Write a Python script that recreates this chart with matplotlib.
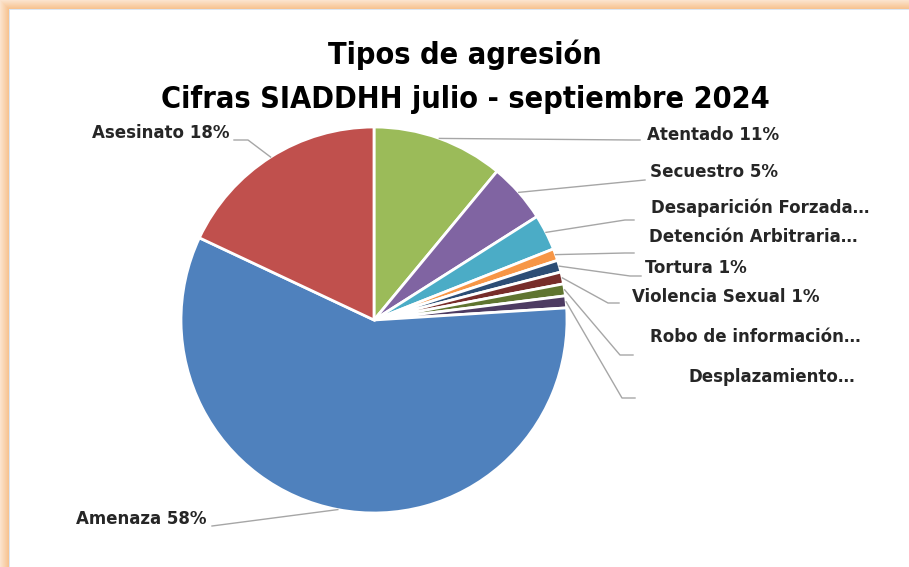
import numpy as np
import matplotlib

matplotlib.use("Agg")
import matplotlib.pyplot as plt

plt.rcParams["font.family"] = ["DejaVu Sans"]
plt.rcParams["font.stretch"] = "condensed"

W, H = 909, 567

# --- data (percent of cases, clockwise from 12 o'clock) ---
categorias = [
    "Atentado", "Secuestro", "Desaparición Forzada", "Detención Arbitraria",
    "Tortura", "Violencia Sexual", "Robo de información", "Desplazamiento",
    "Amenaza", "Asesinato",
]
porcentajes = [11, 5, 3, 1, 1, 1, 1, 1, 58, 18]
etiquetas = [
    "Atentado 11%", "Secuestro 5%", "Desaparición Forzada…", "Detención Arbitraria…",
    "Tortura 1%", "Violencia Sexual 1%", "Robo de información…", "Desplazamiento…",
    "Amenaza 58%", "Asesinato 18%",
]
colores = [
    "#9BBB59", "#8064A2", "#4BACC6", "#F79646", "#2C4D75",
    "#772C2A", "#5F7530", "#4D3B62", "#4F81BD", "#C0504D",
]

# --- layout (pixel coords, y down): label anchor, leader elbow points, alignment ---
CX, CY, R = 374, 320, 193
layout = [
    ((647, 135), [(632, 140), (640, 140)], "left"),
    ((650, 172), [(645, 180)], "left"),
    ((651, 208), [(625, 220), (634, 220)], "left"),
    ((649, 237), [(625, 253), (634, 253)], "left"),
    ((645, 268), [(630, 276), (641, 276)], "left"),
    ((632, 297), [(608, 303), (619, 303)], "left"),
    ((650, 337), [(620, 355), (633, 355)], "left"),
    ((688, 377), [(622, 398), (635, 398)], "left"),
    ((206, 519), [(212, 526)], "right"),
    ((230, 133), [(248, 140), (234, 140)], "right"),
]

fig = plt.figure(figsize=(W / 100, H / 100), dpi=100)

# orange glow frame on top/left edges
bg = np.ones((H, W, 3))
edge = np.array([247, 195, 145]) / 255.0
for i in range(9):
    t = 0.45 + 0.55 * i / 8
    col = 1 - (1 - edge) * t
    bg[i, i:, :] = col
    bg[i:, i, :] = col
bg[9, 9:, :] = np.array([220, 230, 242]) / 255.0
bg[9:, 9, :] = np.array([220, 230, 242]) / 255.0
bax = fig.add_axes([0, 0, 1, 1], zorder=0)
bax.imshow(bg, extent=(0, W, 0, H), aspect="auto", interpolation="nearest")
bax.set_axis_off()

ax = fig.add_axes([0, 0, 1, 1], zorder=1)
ax.patch.set_alpha(0)
wedges, _ = ax.pie(
    porcentajes, colors=colores, startangle=90, counterclock=False,
    center=(CX, H - CY), radius=R,
    wedgeprops=dict(edgecolor="white", linewidth=2),
)
ax.set_xlim(0, W)
ax.set_ylim(0, H)
ax.set_axis_off()

for w, lab, (pos, elbows, ha) in zip(wedges, etiquetas, layout):
    ang = np.deg2rad((w.theta1 + w.theta2) / 2)
    ax_x = CX + R * np.cos(ang)
    ax_y = (H - CY) + R * np.sin(ang)
    xs = [ax_x] + [p[0] for p in elbows]
    ys = [ax_y] + [H - p[1] for p in elbows]
    ax.plot(xs, ys, color="#A6A6A6", lw=1, zorder=3)
    ax.text(pos[0], H - pos[1], lab, ha=ha, va="center", fontsize=13.3,
            fontweight="bold", color="#262626", zorder=4)

ax.text(465, H - 55, "Tipos de agresión", ha="center", va="center",
        fontsize=22, fontweight="bold", color="black")
ax.text(465, H - 100, "Cifras SIADDHH julio - septiembre 2024", ha="center",
        va="center", fontsize=22, fontweight="bold", color="black")

fig.savefig("out.png", dpi=100)
